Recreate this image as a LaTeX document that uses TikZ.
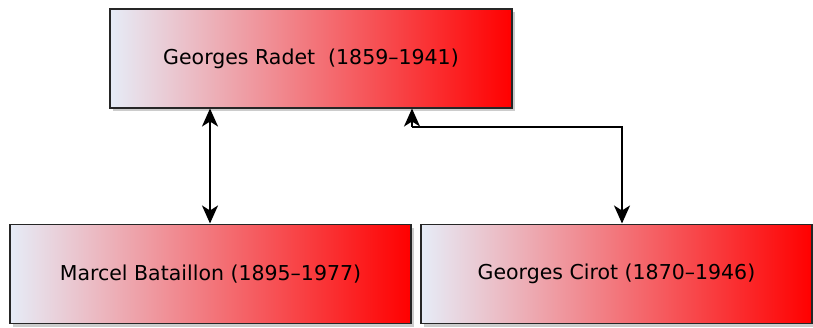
\documentclass[tikz,border=0pt]{standalone}
\usepackage{fontspec}
\setmainfont{DejaVu Sans}
\usetikzlibrary{arrows.meta, positioning, shadows}
\definecolor{paleblue}{HTML}{E6ECF7}

\begin{document}
\begin{tikzpicture}[x=1pt, y=-1pt,
	person/.style={draw=black!85, line width=1.4pt, left color=paleblue, right color=red,
		minimum height=99pt, inner sep=0pt, font=\fontsize{20.5}{24}\selectfont,
		drop shadow={shadow xshift=3pt, shadow yshift=-3pt, opacity=0.4}},
	link/.style={-{Stealth[length=18pt,width=16pt,inset=5pt]}, line width=2pt}]
		% Viewing box of the reference
		\useasboundingbox (0,0) rectangle (813,327);
		
		% Persons
		\node[person, minimum width=402pt] (radet) at (311,58.5) {Georges Radet\ \ (1859–1941)};
		\node[person, minimum width=401pt] (bataillon) at (210.5,274) {Marcel Bataillon (1895–1977)};
		\node[person, minimum width=391pt] (cirot) at (616.5,274) {Georges Cirot (1870–1946)};
		
		% Link points
		\coordinate (radetL) at (210,108.5);
		\coordinate (mid) at (210,166);
		\coordinate (bataillonT) at (210,223.5);
		\coordinate (radetR) at (412,108.5);
		\coordinate (bend) at (412,127);
		\coordinate (cirotT) at (622,223.5);
		
		% Links (double headed)
		\draw[link] (mid) -- (radetL);
		\draw[link] (mid) -- (bataillonT);
		\draw[link] (bend) -- (radetR);
		\draw[link] (bend) -| (cirotT);
		
	\end{tikzpicture}
\end{document}
